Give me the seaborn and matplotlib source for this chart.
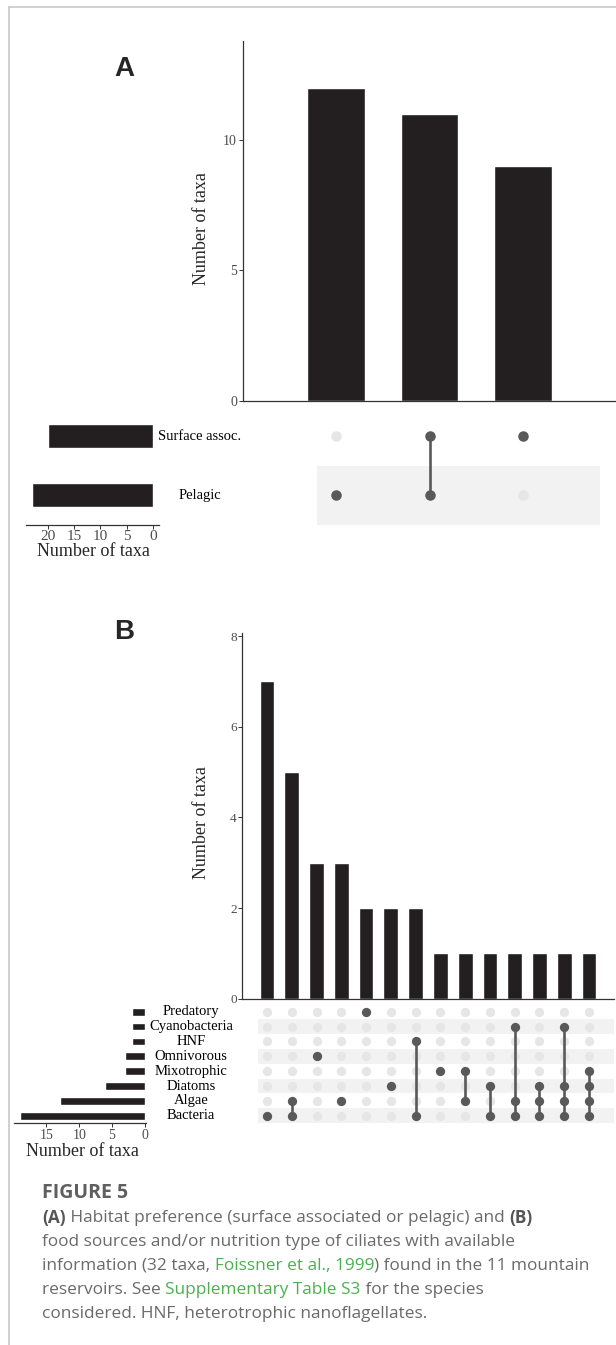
import numpy as np
import pandas as pd
import seaborn as sns
import matplotlib.pyplot as plt
from matplotlib.lines import Line2D
from matplotlib.patches import Rectangle

sns.set_style("white")
plt.rcParams["font.family"] = ["Liberation Serif", "DejaVu Serif"]

W, H = 616, 1345
BAR_COLOR = "#231f20"
DOT_ON = "#595959"
DOT_OFF = "#e6e6e6"
SHADE = "#f2f2f2"
TICK_GRAY = "#4d4d4d"

# panel A: habitat preference
habitat_sets = ["Surface assoc.", "Pelagic"]
habitat_set_sizes = [20, 23]
habitat_combos = [["Pelagic"], ["Surface assoc.", "Pelagic"], ["Surface assoc."]]
habitat_counts = [12, 11, 9]

# panel B: food sources / nutrition type
food_sets = ["Predatory", "Cyanobacteria", "HNF", "Omnivorous",
             "Mixotrophic", "Diatoms", "Algae", "Bacteria"]
food_set_sizes = [2, 2, 2, 3, 3, 6, 13, 19]
food_combos = [
    ["Bacteria"],
    ["Algae", "Bacteria"],
    ["Omnivorous"],
    ["Algae"],
    ["Predatory"],
    ["Diatoms"],
    ["HNF", "Bacteria"],
    ["Mixotrophic"],
    ["Mixotrophic", "Algae"],
    ["Diatoms", "Bacteria"],
    ["Cyanobacteria", "Algae", "Bacteria"],
    ["Diatoms", "Algae", "Bacteria"],
    ["Cyanobacteria", "Diatoms", "Algae", "Bacteria"],
    ["Mixotrophic", "Diatoms", "Algae", "Bacteria"],
]
food_counts = [7, 5, 3, 3, 2, 2, 2, 1, 1, 1, 1, 1, 1, 1]


def px_axes(fig, left, top, right, bottom):
    ax = fig.add_axes([left / W, 1 - bottom / H, (right - left) / W, (bottom - top) / H])
    ax.patch.set_alpha(0)
    return ax


def upset(fig, sets, set_sizes, combos, counts, g):
    n = len(sets)
    # intersection bars
    ax = px_axes(fig, g["x0"], g["bar_top"], g["x1"], g["bar_bottom"])
    labels = ["&".join(c) for c in combos]
    bars = pd.DataFrame({"combo": labels, "n": counts})
    sns.barplot(data=bars, x="combo", y="n", order=labels, color=BAR_COLOR,
                saturation=1, width=g["bar_w"], ax=ax)
    ax.set_xlim(*g["xlim"])
    ax.set_ylim(0, g["ymax"])
    ax.set_yticks(g["yticks"])
    ax.set_xticks([])
    ax.set_xlabel("")
    ax.set_ylabel("")
    for s in ["top", "right"]:
        ax.spines[s].set_visible(False)
    for s in ["left", "bottom"]:
        ax.spines[s].set_color("#333333")
        ax.spines[s].set_linewidth(0.9)
    ax.tick_params(axis="y", left=True, length=3, width=0.7, color="#333333",
                   labelcolor=TICK_GRAY, labelsize=g["ytick_size"], pad=1)

    # matrix
    top = g["row0"] - g["row_step"] / 2
    bottom = g["row0"] + g["row_step"] * (n - 0.5)
    axm = px_axes(fig, g["x0"], top, g["x1"], bottom)
    axm.set_xlim(*g["xlim"])
    axm.set_ylim(n - 0.5, -0.5)
    axm.axis("off")
    for i in range(n):
        if i % 2 == 1:
            axm.add_patch(Rectangle((g["shade"][0], i - 0.5), g["shade"][1] - g["shade"][0], 1,
                                    facecolor=SHADE, lw=0, zorder=0))
    idx = {s: i for i, s in enumerate(sets)}
    recs = [{"col": c, "row": idx[s], "on": s in combo}
            for c, combo in enumerate(combos) for s in sets]
    df = pd.DataFrame(recs)
    size = (g["dot_px"] * 72 / 100) ** 2
    sns.scatterplot(data=df[~df["on"]], x="col", y="row", color=DOT_OFF, s=size,
                    linewidth=0, ax=axm, zorder=2)
    for c, combo in enumerate(combos):
        r = [idx[s] for s in combo]
        if len(r) > 1:
            axm.plot([c, c], [min(r), max(r)], color=DOT_ON, lw=1.9, zorder=3,
                     solid_capstyle="butt")
    sns.scatterplot(data=df[df["on"]], x="col", y="row", color=DOT_ON, s=size,
                    linewidth=0, ax=axm, zorder=4)
    axm.set_xlim(*g["xlim"])
    axm.set_ylim(n - 0.5, -0.5)

    # set size bars
    axs = px_axes(fig, g["s0"], top, g["s1"], bottom)
    sz = pd.DataFrame({"set": sets, "n": set_sizes})
    sns.barplot(data=sz, x="n", y="set", order=sets, orient="h", color=BAR_COLOR,
                saturation=1, width=g["set_h"], ax=axs)
    axs.set_xlim(*g["set_xlim"])
    axs.set_ylim(n - 0.5, -0.5)
    axs.set_xticks(g["set_ticks"])
    axs.set_yticks([])
    axs.set_xlabel("")
    axs.set_ylabel("")
    for s in ["top", "right", "left"]:
        axs.spines[s].set_visible(False)
    axs.spines["bottom"].set_color("#333333")
    axs.spines["bottom"].set_linewidth(0.9)
    axs.tick_params(axis="x", bottom=True, length=3, width=0.7, color="#333333",
                    labelcolor=TICK_GRAY, labelsize=g["xtick_size"], pad=1)

    # set names between the two panels
    for i, s in enumerate(sets):
        y = g["row0"] + i * g["row_step"]
        fig.text(g["label_x"] / W, 1 - y / H, s, ha="center", va="center",
                 fontsize=g["label_size"], color="black")

    fig.text(201 / W, 1 - g["ylab_y"] / H, "Number of taxa", rotation=90,
             ha="center", va="center", fontsize=13)
    fig.text(g["xlab_x"] / W, 1 - g["xlab_y"] / H, "Number of taxa",
             ha="center", va="center", fontsize=13)
    fig.text(124 / W, 1 - g["panel_y"] / H, g["panel"], ha="center", va="center",
             fontsize=20, fontweight="bold", family=["Liberation Sans", "DejaVu Sans"])


def rich_line(fig, x, y, parts, size):
    r = fig.canvas.get_renderer()
    fx = x / W
    for s, color, weight in parts:
        t = fig.text(fx, 1 - y / H, s, color=color, fontweight=weight, fontsize=size,
                     ha="left", va="center", family=["Open Sans", "DejaVu Sans"])
        fx += t.get_window_extent(renderer=r).width / fig.bbox.width


fig = plt.figure(figsize=(W / 100, H / 100), dpi=100)

geom_a = dict(panel="A", panel_y=69, x0=242.5, x1=616.5, bar_top=41, bar_bottom=400.7,
              xlim=(-1, 3), ymax=13.8, yticks=[0, 5, 10], bar_w=0.61, ytick_size=10,
              row0=436, row_step=59, shade=(-0.2, 2.82), dot_px=10.5,
              s0=26, s1=159, set_xlim=(24.1, -1.1), set_h=0.41, set_ticks=[0, 5, 10, 15, 20],
              xtick_size=11, label_x=200, label_size=10.5, ylab_y=229, xlab_x=93, xlab_y=552)
geom_b = dict(panel="B", panel_y=632, x0=242.2, x1=613.8, bar_top=633, bar_bottom=998.7,
              xlim=(-1, 14), ymax=8.07, yticks=[0, 2, 4, 6, 8], bar_w=0.6, ytick_size=9.5,
              row0=1011.7, row_step=14.86, shade=(-0.35, 14), dot_px=9.3,
              s0=14, s1=146, set_xlim=(19.95, -0.2), set_h=0.52, set_ticks=[0, 5, 10, 15],
              xtick_size=10, label_x=191, label_size=10.5, ylab_y=823, xlab_x=82, xlab_y=1151)

upset(fig, habitat_sets, habitat_set_sizes, habitat_combos, habitat_counts, geom_a)
upset(fig, food_sets, food_set_sizes, food_combos, food_counts, geom_b)

# card outline
fig.add_artist(Line2D([9 / W, 9 / W], [0, 1 - 7 / H], color="#c8c8c8", lw=1.2))
fig.add_artist(Line2D([9 / W, 1], [1 - 7 / H, 1 - 7 / H], color="#c8c8c8", lw=1.2))

# caption
CAP = "#6a6a6a"
GREEN = "#4caf50"
cap_size = 12.4
rich_line(fig, 42, 1193, [("FIGURE 5", "#5f5f5f", "bold")], 14)
rich_line(fig, 42, 1218, [("(A)", "#555555", "bold"),
                          (" Habitat preference (surface associated or pelagic) and ", CAP, "normal"),
                          ("(B)", "#555555", "bold")], cap_size)
rich_line(fig, 42, 1242, [("food sources and/or nutrition type of ciliates with available", CAP, "normal")], cap_size)
rich_line(fig, 42, 1266, [("information (32 taxa, ", CAP, "normal"),
                          ("Foissner et al., 1999", GREEN, "normal"),
                          (") found in the 11 mountain", CAP, "normal")], cap_size)
rich_line(fig, 42, 1290, [("reservoirs. See ", CAP, "normal"),
                          ("Supplementary Table S3", GREEN, "normal"),
                          (" for the species", CAP, "normal")], cap_size)
rich_line(fig, 42, 1314, [("considered. HNF, heterotrophic nanoflagellates.", CAP, "normal")], cap_size)

fig.savefig("out.png", dpi=100)
